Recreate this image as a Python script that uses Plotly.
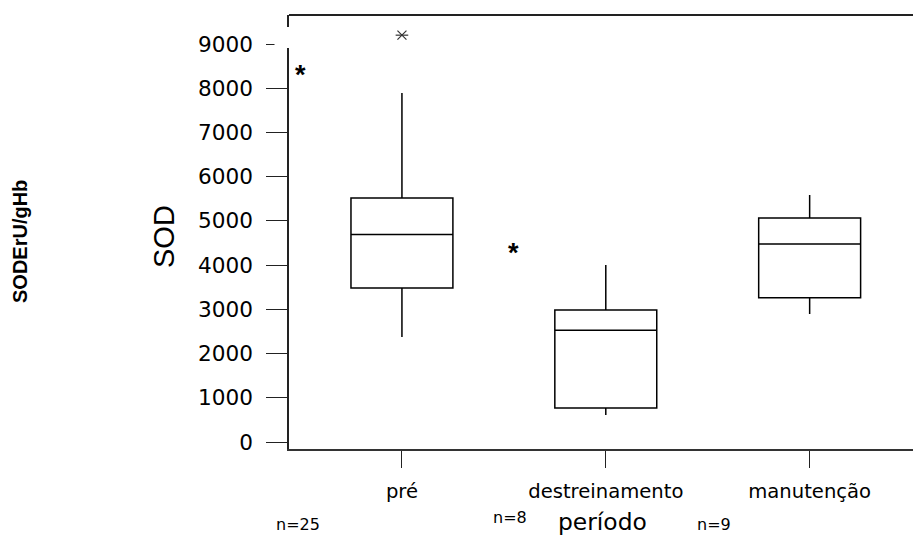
import plotly.graph_objects as go

# ---- data ----
categories = ["pré", "destreinamento", "manutenção"]
positions = [0, 1, 2]
q1 = [3480, 770, 3260]
median = [4690, 2530, 4480]
q3 = [5520, 2985, 5065]
lower_whisker = [2375, 610, 2895]
upper_whisker = [7890, 4000, 5585]
outlier_x = [0]
outlier_y = [9200]
sample_sizes = ["n=25", "n=8", "n=9"]
star_x = [-0.50, 0.545]
star_y = [8460, 4430]
ytick_vals = [0, 1000, 2000, 3000, 4000, 5000, 6000, 7000, 8000, 9000]
ytick_text = [str(v) for v in ytick_vals]

# ---- geometry (pixels of the 913x538 canvas) ----
W, H = 913, 538
L, R, T, B = 289, 0, 15, 89
plot_w = W - L - R
plot_h = H - T - B


def px_x(px):
    return (px - L) / plot_w


def px_y(py):
    return (H - B - py) / plot_h


fig = go.Figure()

fig.add_trace(go.Box(
    x=positions, q1=q1, median=median, q3=q3,
    lowerfence=lower_whisker, upperfence=upper_whisker,
    width=0.5, whiskerwidth=0, boxpoints=False,
    fillcolor="white", line=dict(color="black", width=1.5),
    showlegend=False, hoverinfo="skip",
))

# outlier asterisk (x plus horizontal bar)
for sym in ["x-thin-open", "line-ew-open"]:
    fig.add_trace(go.Scatter(
        x=outlier_x, y=outlier_y, mode="markers",
        marker=dict(symbol=sym, size=9, color="#333333",
                    line=dict(color="#333333", width=1.2)),
        showlegend=False, hoverinfo="skip",
    ))

annotations = []
for sx, sy in zip(star_x, star_y):
    annotations.append(dict(
        x=sx, y=sy, xref="x", yref="y", text="<b>*</b>", showarrow=False,
        font=dict(family="Liberation Sans, Arial", size=27, color="black"),
        xanchor="center", yanchor="middle", yshift=-7,
    ))

# sample-size labels and axis titles
n_pos = [(298, 524), (510, 517), (714, 524)]
for txt, (x, y) in zip(sample_sizes, n_pos):
    annotations.append(dict(
        x=px_x(x), y=px_y(y), xref="paper", yref="paper", text=txt,
        showarrow=False, font=dict(family="DejaVu Sans", size=16, color="black"),
        xanchor="center", yanchor="middle",
    ))

annotations.append(dict(
    x=px_x(602), y=px_y(522), xref="paper", yref="paper", text="período",
    showarrow=False, font=dict(family="DejaVu Sans", size=23.4, color="black"),
    xanchor="center", yanchor="middle",
))
annotations.append(dict(
    x=px_x(164), y=px_y(237), xref="paper", yref="paper", text="SOD",
    showarrow=False, textangle=-90,
    font=dict(family="Liberation Sans, Arial", size=29, color="black"),
    xanchor="center", yanchor="middle",
))
annotations.append(dict(
    x=px_x(20), y=px_y(242), xref="paper", yref="paper", text="<b>SODErU/gHb</b>",
    showarrow=False, textangle=-90,
    font=dict(family="Liberation Sans, Arial", size=20, color="black"),
    xanchor="center", yanchor="middle",
))

shapes = [
    # top frame line
    dict(type="line", xref="paper", yref="paper", x0=0, x1=1, y0=1, y1=1,
         line=dict(color="#222222", width=2)),
    # small gap on the left axis near the 9000 tick
    dict(type="rect", xref="paper", yref="paper",
         x0=px_x(274.5), x1=px_x(292), y0=px_y(48), y1=px_y(27),
         fillcolor="white", line=dict(width=0), layer="above"),
]

fig.update_layout(
    width=W, height=H,
    margin=dict(l=L, r=R, t=T, b=B, pad=0),
    paper_bgcolor="white", plot_bgcolor="white",
    font=dict(family="DejaVu Sans", color="black"),
    annotations=annotations, shapes=shapes,
    xaxis=dict(
        range=[-0.554, 2.507], tickmode="array", tickvals=positions,
        ticktext=categories, ticks="outside", ticklen=17, tickwidth=1.2,
        tickcolor="#222222", showline=True, linecolor="#333333", linewidth=2,
        showgrid=False, zeroline=False, tickfont=dict(size=19.6),
        ticklabelstandoff=6, fixedrange=True,
    ),
    yaxis=dict(
        range=[-158, 9656], tickmode="array", tickvals=ytick_vals,
        ticktext=ytick_text, ticks="outside", ticklen=21, tickwidth=1.2,
        tickcolor="#222222", showline=True, linecolor="#222222", linewidth=1.5,
        showgrid=False, zeroline=False, tickfont=dict(size=21.6),
        ticklabelstandoff=9, fixedrange=True,
    ),
)

fig.write_html(
    "out.html",
    config={"displayModeBar": False},
    post_script="document.body.style.margin='0';document.body.style.overflow='hidden';",
)
